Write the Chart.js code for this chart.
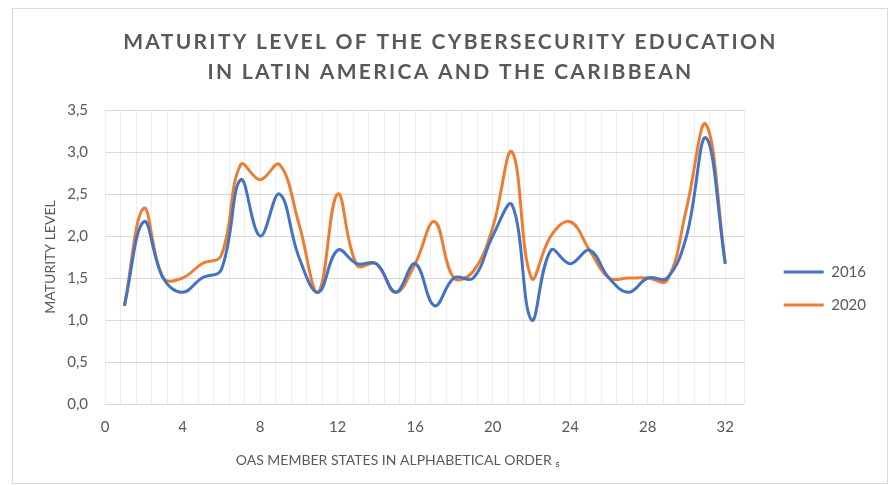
<!DOCTYPE html>
<html>
<head>
<meta charset="utf-8">
<script src="https://cdn.jsdelivr.net/npm/chart.js@4.4.1/dist/chart.umd.min.js"></script>
<style>
    html, body { margin: 0; padding: 0; background: #fff; }
</style>
</head>
<body>
<canvas id="maturityChart" width="890" height="485"></canvas>
<script>
// Maturity level of cybersecurity education - OAS member states

// Member states, numbered in alphabetical order
const memberStates = [1, 2, 3, 4, 5, 6, 7, 8, 9, 10, 11, 12, 13, 14, 15, 16,
                      17, 18, 19, 20, 21, 22, 23, 24, 25, 26, 27, 28, 29, 30, 31, 32];

// Average maturity level per state
const level2016 = [1.17, 2.17, 1.5, 1.33, 1.5, 1.6, 2.67, 2.0, 2.5, 1.75, 1.33, 1.83, 1.67, 1.67, 1.33, 1.67,
                   1.17, 1.5, 1.5, 2.0, 2.37, 1.0, 1.83, 1.67, 1.83, 1.5, 1.33, 1.5, 1.5, 2.0, 3.17, 1.67];
const level2020 = [1.17, 2.33, 1.5, 1.5, 1.67, 1.77, 2.85, 2.67, 2.85, 2.15, 1.33, 2.5, 1.65, 1.67, 1.33, 1.67,
                   2.17, 1.5, 1.58, 2.1, 3.0, 1.5, 2.0, 2.17, 1.83, 1.5, 1.5, 1.5, 1.47, 2.33, 3.33, 1.67];

// Axis tick labels
const xMajorTicks = [0, 4, 8, 12, 16, 20, 24, 28, 32];
const yTickLabels = ['0,0', '0,5', '1,0', '1,5', '2,0', '2,5', '3,0', '3,5'];

const textGrey = '#595959';
Chart.defaults.font.family = "Lato, 'Open Sans', sans-serif";
Chart.defaults.color = textGrey;

const toPoints = values => values.map((v, i) => ({ x: memberStates[i], y: v }));

// White background + thin frame round the whole chart
const chartFrame = {
    id: 'chartFrame',
    beforeDraw(chart) {
        const c = chart.ctx;
        c.save();
        c.fillStyle = '#fff';
        c.fillRect(0, 0, chart.width, chart.height);
        c.strokeStyle = '#d9d9d9';
        c.lineWidth = 1;
        c.strokeRect(12.5, 8.5, 875, 475);
        c.restore();
    }
};

// Spaced-out capitals for the chart title, and small offsets for the titles
// so they sit where the original put them
const titleTweaks = {
    id: 'titleTweaks',
    beforeDraw(chart) {
        const t = chart.titleBlock;
        if (t && !t._tweaked) {
            const draw = t.draw.bind(t);
            t.draw = function () {
                chart.ctx.save();
                chart.ctx.letterSpacing = '2.3px';
                chart.ctx.translate(23, 0);
                draw();
                chart.ctx.restore();
            };
            t._tweaked = true;
        }
        const xs = chart.scales.x;
        if (xs && !xs._tweaked) {
            const drawTitle = xs.drawTitle.bind(xs);
            xs.drawTitle = function () {
                chart.ctx.save();
                chart.ctx.translate(-27, 0);
                drawTitle();
                chart.ctx.restore();
            };
            xs._tweaked = true;
        }
    }
};

// Legend sits a little away from the plot, a bit below centre
const legendNudge = {
    id: 'legendNudge',
    afterLayout(chart) {
        const lg = chart.legend;
        lg.left += 21;
        lg.right += 21;
        lg.top += 46;
        lg.bottom += 46;
    }
};

new Chart(document.getElementById('maturityChart'), {
    type: 'line',
    data: {
        datasets: [{
            label: '2016',
            data: toPoints(level2016),
            borderColor: '#4472C4',
            backgroundColor: '#4472C4',
            borderWidth: 3,
            pointRadius: 0,
            tension: 0.4,
            fill: false
        }, {
            label: '2020',
            data: toPoints(level2020),
            borderColor: '#ED7D31',
            backgroundColor: '#ED7D31',
            borderWidth: 3,
            pointRadius: 0,
            tension: 0.4,
            fill: false
        }]
    },
    options: {
        responsive: false,
        animation: false,
        layout: {
            padding: { left: 0, right: 35, top: 0, bottom: 0 }
        },
        plugins: {
            title: {
                display: true,
                text: ['MATURITY LEVEL OF THE CYBERSECURITY EDUCATION', 'IN LATIN AMERICA AND THE CARIBBEAN'],
                color: textGrey,
                font: { size: 21, weight: 'bold', lineHeight: '30px' },
                padding: { top: 27, bottom: 23 }
            },
            legend: {
                position: 'right',
                labels: {
                    usePointStyle: true,
                    pointStyle: 'line',
                    pointStyleWidth: 40,
                    padding: 18,
                    color: textGrey,
                    font: { size: 15 }
                }
            },
            tooltip: { enabled: false }
        },
        scales: {
            x: {
                type: 'linear',
                min: 0,
                max: 33,
                afterFit(scale) { scale.height = 81; },
                grid: { color: '#ededed', drawTicks: false },
                border: { display: false },
                ticks: {
                    stepSize: 0.8,
                    autoSkip: false,
                    maxRotation: 0,
                    padding: 14,
                    color: textGrey,
                    font: { size: 15 },
                    callback: value => {
                        const major = xMajorTicks.find(t => Math.abs(t - value) < 1e-6);
                        return major === undefined ? '' : String(major);
                    }
                },
                title: {
                    display: true,
                    text: 'OAS MEMBER STATES IN ALPHABETICAL ORDER \u2085',
                    color: textGrey,
                    font: { size: 14 },
                    padding: { top: 0, bottom: 16 }
                }
            },
            y: {
                min: 0,
                max: 3.5,
                afterFit(scale) { scale.width = 105; },
                grid: { color: '#d9d9d9', drawTicks: false },
                border: { display: false },
                ticks: {
                    stepSize: 0.5,
                    padding: 17,
                    color: textGrey,
                    font: { size: 15 },
                    callback: (value, index) => yTickLabels[index]
                },
                title: {
                    display: true,
                    text: 'MATURITY LEVEL',
                    color: textGrey,
                    font: { size: 14 },
                    padding: { top: 42, bottom: 0 }
                }
            }
        }
    },
    plugins: [chartFrame, titleTweaks, legendNudge]
});
</script>
</body>
</html>
